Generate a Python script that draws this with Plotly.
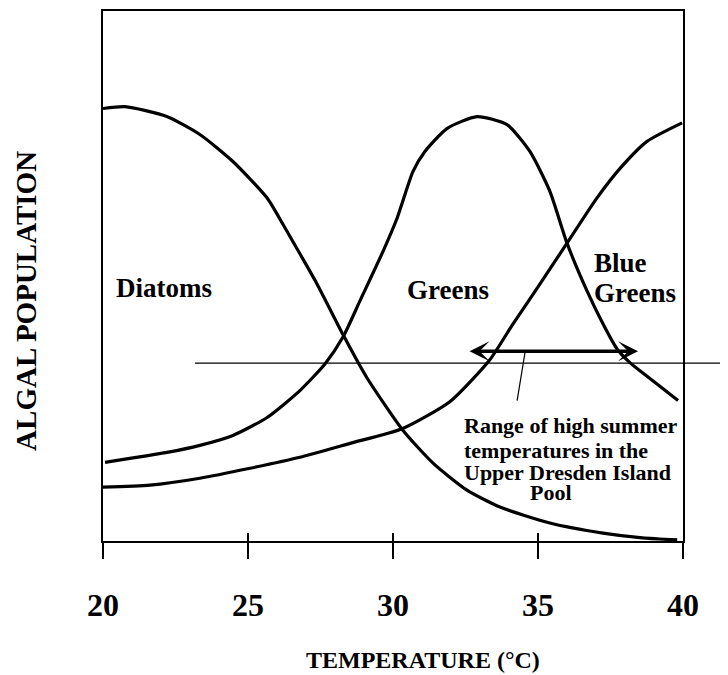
import plotly.graph_objects as go

# ---------------- data (temperature in °C, relative population 0-100) ----------------
diatoms_t = [20.0, 20.76, 22.2, 23.34, 24.48, 25.66, 26.2, 26.8, 27.38, 28.28, 29.1,
             30.34, 31.38, 32.55, 33.69, 35.41, 37.24, 38.6, 39.8]
diatoms_y = [81.6, 81.95, 80.1, 76.7, 71.6, 64.7, 59.8, 54.1, 48.5, 38.9, 30.8,
             20.9, 14.7, 9.6, 6.4, 3.4, 1.5, 0.6, 0.2]

greens_t = [20.07, 22.21, 23.34, 24.48, 25.66, 26.79, 27.66, 28.28, 28.86, 29.66, 30.14,
            30.69, 31.10, 31.86, 32.90, 33.93, 34.72, 35.41, 36.00, 36.69, 37.24,
            37.72, 38.17, 38.86, 39.83]
greens_y = [14.85, 16.73, 18.05, 19.92, 23.31, 28.38, 33.46, 38.53, 45.30, 54.70, 60.90,
            69.74, 73.50, 77.82, 80.08, 78.57, 73.50, 65.98, 56.20, 47.18, 40.98,
            36.28, 33.65, 30.64, 26.50]

blue_t = [20.0, 21.62, 23.34, 25.07, 26.79, 28.52, 30.34, 31.97, 33.34, 34.14, 35.07,
          36.0, 37.03, 37.83, 38.76, 39.97]
blue_y = [10.15, 10.53, 11.84, 13.72, 15.79, 18.42, 21.24, 26.32, 34.2, 40.98, 48.5,
          56.2, 64.7, 70.3, 75.4, 78.9]

x_ticks = [20, 25, 30, 35, 40]
x_range = [20, 40]
y_range = [0, 100]

# reference line & summer range arrow (data coordinates)
ref_line_y = 33.55
ref_line_t = [23.17, 41.55]
summer_range_t = [32.59, 38.45]
summer_range_y = 35.8
pointer_t = [34.55, 34.28]
pointer_y = [35.5, 26.5]

series_labels = [("Diatoms", 20.38, 47.7), ("Greens", 30.41, 47.4),
                 ("Blue", 36.86, 52.4), ("Greens", 36.86, 46.8)]
note_lines = [("Range of high summer", 32.38, 21.8), ("temperatures in the", 32.38, 17.1),
              ("Upper Dresden Island", 32.38, 13.0), ("Pool", 34.66, 9.2)]

FONT = "Liberation Serif"

fig = go.Figure()
line_style = dict(color="black", width=3.2, shape="spline", smoothing=0.6)
for t, y in [(diatoms_t, diatoms_y), (greens_t, greens_y), (blue_t, blue_y)]:
    fig.add_trace(go.Scatter(x=t, y=y, mode="lines", line=line_style,
                             showlegend=False, hoverinfo="skip"))

# invisible trace on the overlay axis (inside tick marks)
fig.add_trace(go.Scatter(x=x_range, y=[None, None], xaxis="x2", mode="lines",
                         showlegend=False, hoverinfo="skip"))

def t_to_paper(t):
    return (t - x_range[0]) / (x_range[1] - x_range[0])

# horizontal reference line (extends beyond the frame)
fig.add_shape(type="line", xref="paper", yref="y",
              x0=t_to_paper(ref_line_t[0]), x1=t_to_paper(ref_line_t[1]),
              y0=ref_line_y, y1=ref_line_y, line=dict(color="black", width=1.2))

# pointer line
fig.add_shape(type="line", xref="x", yref="y", x0=pointer_t[0], x1=pointer_t[1],
              y0=pointer_y[0], y1=pointer_y[1], line=dict(color="black", width=1.2))

# double arrow
fig.add_annotation(x=summer_range_t[1], y=summer_range_y, ax=summer_range_t[0],
                   ay=summer_range_y, axref="x", ayref="y", xref="x", yref="y",
                   text="", showarrow=True, arrowhead=3, startarrowhead=3,
                   arrowside="end+start", arrowwidth=3.5, arrowsize=0.95,
                   startarrowsize=0.95, arrowcolor="black")

for txt, t, y in series_labels:
    fig.add_annotation(x=t, y=y, xref="x", yref="y", text=f"<b>{txt}</b>",
                       showarrow=False, xanchor="left", yanchor="middle",
                       font=dict(family=FONT, size=27, color="black"))

for txt, t, y in note_lines:
    fig.add_annotation(x=t, y=y, xref="x", yref="y", text=f"<b>{txt}</b>",
                       showarrow=False, xanchor="left", yanchor="middle",
                       font=dict(family=FONT, size=22, color="black"))

# axis titles
fig.add_annotation(x=31.03, y=-0.2237, xref="x", yref="paper",
                   text="<b>TEMPERATURE (°C)</b>", showarrow=False,
                   xanchor="center", yanchor="middle",
                   font=dict(family=FONT, size=24, color="black"))
fig.add_annotation(x=-0.1328, y=0.453, xref="paper", yref="paper",
                   text="<b>ALGAL POPULATION</b>", showarrow=False, textangle=-90,
                   xanchor="center", yanchor="middle",
                   font=dict(family=FONT, size=29, color="black"))

fig.update_layout(
    width=720, height=667,
    margin=dict(l=95, r=45, t=1, b=134),
    paper_bgcolor="white", plot_bgcolor="white",
    showlegend=False,
    xaxis=dict(range=x_range, tickvals=x_ticks,
               ticktext=[f"<b>{v}</b>" for v in x_ticks],
               ticks="outside", ticklen=16, tickwidth=1.5, tickcolor="black",
               showline=True, linecolor="black", linewidth=1.5, mirror=True,
               showgrid=False, zeroline=False,
               tickfont=dict(family=FONT, size=32, color="black"),
               ticklabelstandoff=19),
    xaxis2=dict(range=x_range, overlaying="x", anchor="y", side="bottom",
                tickvals=x_ticks, ticks="inside", ticklen=8, tickwidth=1.5,
                tickcolor="black", showticklabels=False, showline=False,
                showgrid=False, zeroline=False),
    yaxis=dict(range=y_range, showticklabels=False, ticks="",
               showline=True, linecolor="black", linewidth=1.5, mirror=True,
               showgrid=False, zeroline=False),
)

fig.write_html("out.html")
